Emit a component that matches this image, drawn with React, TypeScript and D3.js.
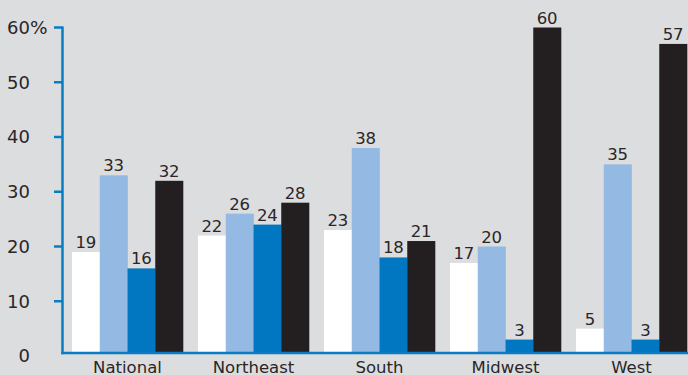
import React from "react";
import * as d3 from "d3";

const categories = ["National", "Northeast", "South", "Midwest", "West"];
const seriesKeys = ["s1", "s2", "s3", "s4"];
const s1 = [19, 22, 23, 17, 5];
const s2 = [33, 26, 38, 20, 35];
const s3 = [16, 24, 18, 3, 3];
const s4 = [32, 28, 21, 60, 57];
const seriesValues = [s1, s2, s3, s4];
const yTicks = [0, 10, 20, 30, 40, 50, 60];
const colors = ["#ffffff", "#94b9e3", "#0077c0", "#231f20"];

const W = 688;
const H = 375;
const axisColor = "#0a7cc4";
const textColor = "#2a2627";
const font = "DejaVu Sans, sans-serif";

export default function App() {
  const x = d3
    .scaleBand<string>()
    .domain(categories)
    .range([64.5, 694.5])
    .paddingInner(15 / 126)
    .paddingOuter(7.5 / 126);
  const xi = d3
    .scaleBand<string>()
    .domain(seriesKeys)
    .range([0, x.bandwidth()])
    .padding(0);
  const y = d3.scaleLinear().domain([0, 60]).range([356, 27.5]);
  const baseY = 353;

  return (
    <svg
      width={W}
      height={H}
      style={{ position: "absolute", left: 0, top: 0, background: "#dcdddf" }}
    >
      <rect x={0} y={0} width={W} height={H} fill="#dcdddf" />
      {categories.map((c, ci) => (
        <g key={c} transform={`translate(${x(c)},0)`}>
          {seriesKeys.map((k, si) => {
            const v = seriesValues[si][ci];
            const bx = xi(k)!;
            return (
              <g key={k}>
                <rect
                  x={bx}
                  y={y(v)}
                  width={xi.bandwidth() + 0.3}
                  height={baseY - y(v)}
                  fill={colors[si]}
                />
                <text
                  x={bx + xi.bandwidth() / 2}
                  y={y(v) - 4}
                  textAnchor="middle"
                  fontFamily={font}
                  fontSize={16.5}
                  fill={textColor}
                >
                  {v}
                </text>
              </g>
            );
          })}
          <text
            x={x.bandwidth() / 2}
            y={373}
            textAnchor="middle"
            fontFamily={font}
            fontSize={16.5}
            fill={textColor}
          >
            {c}
          </text>
        </g>
      ))}
      {/* axes */}
      <line x1={62.5} x2={62.5} y1={y(60) - 1} y2={baseY + 1.2} stroke={axisColor} strokeWidth={2.5} />
      <line x1={61.3} x2={W} y1={baseY} y2={baseY} stroke={axisColor} strokeWidth={2.5} />
      {yTicks.map((t) => (
        <g key={t}>
          {t > 0 && (
            <line x1={54} x2={62.5} y1={y(t)} y2={y(t)} stroke={axisColor} strokeWidth={2.5} />
          )}
          <text
            x={30}
            y={y(t)}
            dy="0.36em"
            textAnchor="end"
            fontFamily={font}
            fontSize={18}
            fill={textColor}
          >
            {t}
          </text>
          {t === 60 && (
            <text x={30} y={y(t)} dy="0.36em" fontFamily={font} fontSize={18.5} fill={textColor}>
              %
            </text>
          )}
        </g>
      ))}
    </svg>
  );
}
